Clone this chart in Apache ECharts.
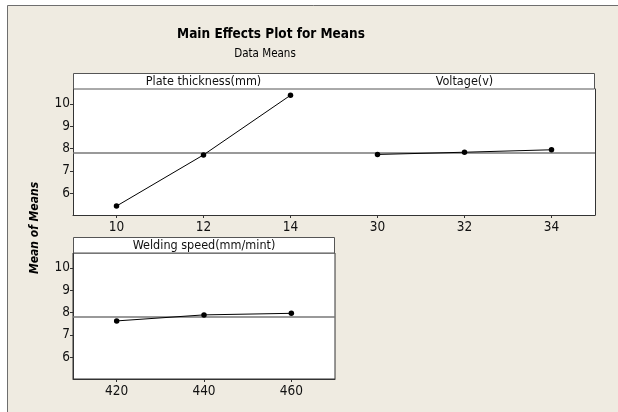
<!DOCTYPE html>
<html>
<head>
<meta charset="utf-8">
<script src="https://cdn.jsdelivr.net/npm/echarts@6/dist/echarts.min.js"></script>
<style>html,body{margin:0;padding:0;background:#fff}#c{width:618px;height:412px}</style>
</head>
<body>
<div id="c"></div>
<script>
// ---- data ----
const thicknessLevels = [10, 12, 14];
const thicknessMeans = [5.43, 7.72, 10.39];
const voltageLevels = [30, 32, 34];
const voltageMeans = [7.74, 7.84, 7.95];
const speedLevels = [420, 440, 460];
const speedMeans = [7.63, 7.90, 7.97];
const grandMean = 7.80;
const yTickValues = [6, 7, 8, 9, 10];
const panelTitles = ['Plate thickness(mm)', 'Voltage(v)', 'Welding speed(mm/mint)'];

const FONT = '"DejaVu Sans Condensed", "DejaVu Sans", sans-serif';
const BEIGE = '#EFEBE1';
const AXIS = '#333333';

const chart = echarts.init(document.getElementById('c'), null, {renderer: 'canvas'});

function xAxisFor(grid, min, max, ticks) {
  return {
    type: 'value', gridIndex: grid, min: min, max: max,
    axisLine: {show: true, lineStyle: {color: AXIS, width: 1}},
    axisTick: {show: true, customValues: ticks, length: 3, lineStyle: {color: AXIS}},
    axisLabel: {customValues: ticks, fontFamily: FONT, fontSize: 13.5, color: '#111', margin: 5},
    splitLine: {show: false}
  };
}
function yAxisFor(grid, showLabels, position) {
  return {
    type: 'value', gridIndex: grid, min: 5.03, max: 10.67, position: position,
    axisLine: {show: true, lineStyle: {color: AXIS, width: 1}},
    axisTick: {show: showLabels, customValues: yTickValues, length: 3, lineStyle: {color: AXIS}},
    axisLabel: {show: showLabels, customValues: yTickValues, fontFamily: FONT, fontSize: 13.5, color: '#111', margin: 3},
    splitLine: {show: false}
  };
}
function seriesFor(i, levels, means) {
  return {
    type: 'line', xAxisIndex: i, yAxisIndex: i,
    data: levels.map((x, k) => [x, means[k]]),
    symbol: 'circle', symbolSize: 5.5, showSymbol: true,
    itemStyle: {color: '#000'},
    lineStyle: {color: '#000', width: 1},
    silent: true, animation: false,
    markLine: {
      silent: true, symbol: 'none', animation: false,
      label: {show: false},
      lineStyle: {color: '#777', width: 1.5, type: 'solid'},
      data: [{yAxis: grandMean}]
    },
    z: 5
  };
}

const option = {
  backgroundColor: '#fff',
  animation: false,
  title: [
    {text: 'Main Effects Plot for Means', left: 266, top: 22, textAlign: 'center',
     textStyle: {fontFamily: FONT, fontSize: 13.5, fontWeight: 'bold', color: '#000'}},
    {text: 'Data Means', left: 260, top: 43, textAlign: 'center',
     textStyle: {fontFamily: FONT, fontSize: 11.5, fontWeight: 'normal', color: '#000'}}
  ],
  grid: [
    {left: 73, top: 89, width: 261, height: 126, show: true, backgroundColor: '#fff', borderWidth: 0},
    {left: 334, top: 89, width: 261, height: 126, show: true, backgroundColor: '#fff', borderWidth: 0},
    {left: 73, top: 253, width: 262, height: 126, show: true, backgroundColor: '#fff', borderColor: AXIS, borderWidth: 1}
  ],
  xAxis: [
    xAxisFor(0, 9, 15, thicknessLevels),
    xAxisFor(1, 29, 35, voltageLevels),
    xAxisFor(2, 410, 470, speedLevels)
  ],
  yAxis: [
    yAxisFor(0, true, 'left'),
    yAxisFor(1, false, 'right'),
    yAxisFor(2, true, 'left')
  ],
  series: [
    seriesFor(0, thicknessLevels, thicknessMeans),
    seriesFor(1, voltageLevels, voltageMeans),
    seriesFor(2, speedLevels, speedMeans)
  ],
  graphic: [
    {type: 'rect', z: -10, shape: {x: 7.5, y: 5.5, width: 700, height: 500},
     style: {fill: BEIGE, stroke: '#6e6e6e', lineWidth: 1}},
    {type: 'rect', z: 10, shape: {x: 73.5, y: 73.5, width: 521, height: 15.5},
     style: {fill: '#fff', stroke: '#555', lineWidth: 1}},
    {type: 'rect', z: 10, shape: {x: 73.5, y: 237.5, width: 261, height: 15.5},
     style: {fill: '#fff', stroke: '#555', lineWidth: 1}},
    {type: 'text', z: 11, style: {x: 203.5, y: 81.5, text: panelTitles[0], textAlign: 'center', textVerticalAlign: 'middle',
      font: '12.5px ' + FONT, fill: '#111'}},
    {type: 'text', z: 11, style: {x: 464.5, y: 81.5, text: panelTitles[1], textAlign: 'center', textVerticalAlign: 'middle',
      font: '12.5px ' + FONT, fill: '#111'}},
    {type: 'text', z: 11, style: {x: 204, y: 245.5, text: panelTitles[2], textAlign: 'center', textVerticalAlign: 'middle',
      font: '12.5px ' + FONT, fill: '#111'}},
    {type: 'text', z: 11, x: 35, y: 228, rotation: Math.PI / 2,
     style: {x: 0, y: 0, text: 'Mean of Means', textAlign: 'center', textVerticalAlign: 'middle',
      font: 'italic bold 12px ' + FONT, fill: '#000'}}
  ]
};
chart.setOption(option);
</script>
</body>
</html>
